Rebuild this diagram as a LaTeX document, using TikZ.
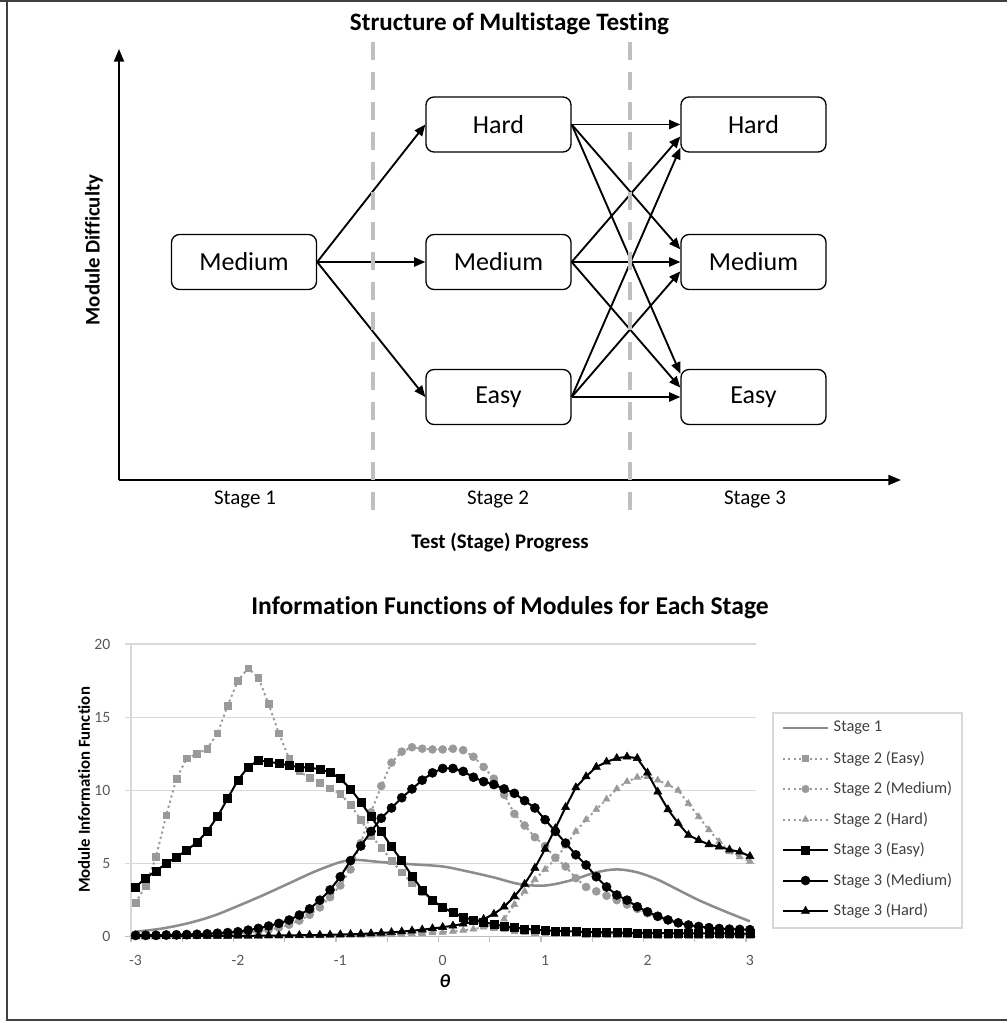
\documentclass[tikz,border=0pt]{standalone}
\usepackage{fontspec}
\setmainfont{Carlito}[Ligatures=NoCommon]
\usetikzlibrary{arrows.meta,plotmarks,calc}
\definecolor{dashgray}{HTML}{BFBFBF}
\definecolor{gridgray}{HTML}{D9D9D9}
\definecolor{axgray}{HTML}{BFBFBF}
\definecolor{lblgray}{HTML}{595959}
\definecolor{legtxt}{HTML}{404040}
\definecolor{sonegray}{HTML}{8C8C8C}
\definecolor{stwogray}{HTML}{9A9A9A}
\definecolor{framegray}{HTML}{404040}
\begin{document}
\begin{tikzpicture}[x=0.75pt,y=-0.75pt,
  module/.style={draw, line width=1pt, rounded corners=6pt, minimum width=108.75pt,
    minimum height=41.25pt, fill=white, inner sep=0pt, font=\fontsize{19.5}{22}\selectfont},
  flow/.style={line width=1.4pt, -{Triangle[length=8.5pt,width=7pt]}},
  axisline/.style={line width=1.5pt, -{Triangle[length=9.5pt,width=7.5pt]}},
  stagesep/.style={draw=dashgray, line width=3pt, dash pattern=on 13.5pt off 9pt},
  stagelbl/.style={font=\fontsize{15.7}{18}\selectfont},
  axtitle/.style={font=\bfseries\fontsize{15.6}{18}\selectfont},
  grid line/.style={draw=gridgray, line width=1.1pt},
  ticklbl/.style={text=lblgray, font=\fontsize{11.8}{13}\selectfont},
  legtext/.style={text=legtxt, anchor=west, font=\fontsize{12.3}{14}\selectfont},
  sone/.style={draw=sonegray, line width=1.9pt},
  stwo/.style={draw=stwogray, line width=1.5pt, dash pattern=on 1.6pt off 2.4pt,
    mark options={solid, fill=stwogray, draw=stwogray, line width=0.4pt}},
  sthree/.style={draw=black, line width=1.5pt,
    mark options={solid, fill=black, draw=black, line width=0.4pt}}
]
\useasboundingbox (0,0) rectangle (1007,1023);
% frame
\draw[framegray, line width=1.5pt] (0,1.5) -- (1007,1.5);
\draw[framegray, line width=1.5pt] (7,0) -- (7,1019.5) -- (1007,1019.5);

% ---------------- top diagram ----------------
\node[anchor=base, font=\bfseries\fontsize{18.8}{22}\selectfont] (title1) at (509.5,31) {Structure of Multistage Testing};

\coordinate (orig) at (119,480);
\coordinate (ytip) at (119,49);
\coordinate (xtip) at (901,480);
\draw[axisline] (orig) -- (ytip);
\draw[axisline] (orig) -- (xtip);

\node[module] (m1) at (244,262) {Medium};
\node[module] (h2) at (498.5,124.5) {Hard};
\node[module] (m2) at (498.5,262) {Medium};
\node[module] (e2) at (498.5,397) {Easy};
\node[module] (h3) at (753.5,124.5) {Hard};
\node[module] (m3) at (753.5,262) {Medium};
\node[module] (e3) at (753.5,397) {Easy};

\draw[flow] (m1.east) -- (h2.west);
\draw[flow] (m1.east) -- (m2.west);
\draw[flow] (m1.east) -- (e2.west);

\draw[flow] (h2.east) -- (h3.west);
\draw[flow] (h2.east) -- ([yshift=9.5pt]m3.west);
\draw[flow] (h2.east) -- ([yshift=17.5pt]e3.west);
\draw[flow] (m2.east) -- ([yshift=-9pt]h3.west);
\draw[flow] (m2.east) -- (m3.west);
\draw[flow] (m2.east) -- ([yshift=7pt]e3.west);
\draw[flow] (e2.east) -- ([yshift=-17.5pt]h3.west);
\draw[flow] (e2.east) -- ([yshift=-7pt]m3.west);
\draw[flow] (e2.east) -- (e3.west);

\coordinate (d1t) at (372.5,42);
\coordinate (d1b) at (372.5,511);
\coordinate (d2t) at (629.5,42);
\coordinate (d2b) at (629.5,511);
\draw[stagesep] (d1t) -- (d1b);
\draw[stagesep] (d2t) -- (d2b);

\node[stagelbl] (st1) at (245,500) {Stage 1};
\node[stagelbl] (st2) at (498,500) {Stage 2};
\node[stagelbl] (st3) at (755,500) {Stage 3};
\node[axtitle] (xtitle) at (500,543) {Test (Stage) Progress};
\node[axtitle, rotate=90] (ytitle) at (94,250) {Module Difficulty};

% ---------------- chart ----------------
\node[anchor=base, font=\bfseries\fontsize{19.2}{22}\selectfont] (title2) at (510,614) {Information Functions of Modules for Each Stage};

\foreach \v/\yy in {5/863.55,10/790.4,15/717.25,20/644.1}{
  \draw[grid line] (125,\yy) -- (756,\yy);
}
\draw[grid line] (131,644.1) -- (131,936.7);
\draw[draw=axgray, line width=1.1pt] (125,936.7) -- (756,936.7);
\foreach \k in {0,...,12}{
  \draw[draw=axgray, line width=1.1pt] (131+51.25*\k,936.7) -- (131+51.25*\k,942);
}
\foreach \v/\yy in {0/936.7,5/863.55,10/790.4,15/717.25,20/644.1}{
  \node[ticklbl, anchor=east] at (115,\yy) {\v};
}
\foreach \t [count=\j from 0] in {-3,-2,-1,0,1,2,3}{
  \node[ticklbl] at (135.5+102.4*\j,960) {\t};
}
\node[font=\bfseries\itshape\fontsize{14}{16}\selectfont] (thetalbl) at (445,981) {θ};
\node[rotate=90, font=\bfseries\fontsize{12.6}{15}\selectfont] (ytitle2) at (84,790) {Module Information Function};

\begin{scope}[shift={(135.5,936.7)}, x=7.68pt, y=10.9725pt]
% Stage 1
\draw[sone] plot[smooth, tension=0.55] coordinates {(0,0.34) (2.5,0.55) (5,0.9) (7.5,1.4) (10,2.1) (12.5,2.85) (15,3.65) (17.5,4.45) (20,5.1) (21.5,5.25) (24,5.1) (27,4.95) (30,4.8) (32.5,4.45) (35,4.05) (37.5,3.6) (40,3.5) (42.5,3.85) (45,4.4) (47,4.6) (49,4.4) (51,3.9) (53,3.2) (55,2.5) (57.5,1.75) (60,1.05)};
% Stage 2 easy
\draw[stwo] plot[mark=square*, mark size=2.5pt] coordinates {(0,2.3) (1,3.5) (2,5.45) (3,8.3) (4,10.8) (5,12.2) (6,12.5) (7,12.85) (8,13.9) (9,15.8) (10,17.5) (11,18.35) (12,17.7) (13,15.9) (14,13.9) (15,12.2) (16,11.3) (17,10.85) (18,10.5) (19,10.15) (20,9.75) (21,9.0) (22,8.0) (23,6.9) (24,6.1) (25,5.2) (26,4.4) (27,3.65) (28,3.05) (29,2.5) (30,2.0) (31,1.6) (32,1.3) (33,1.05) (34,0.85) (35,0.7) (36,0.58) (37,0.48) (38,0.4) (39,0.34) (40,0.3) (41,0.27) (42,0.25) (43,0.23) (44,0.21) (45,0.2) (46,0.19) (47,0.18) (48,0.17) (49,0.16) (50,0.15) (51,0.15) (52,0.14) (53,0.14) (54,0.13) (55,0.13) (56,0.13) (57,0.12) (58,0.12) (59,0.12) (60,0.12)};
% Stage 2 medium
\draw[stwo] plot[mark=*, mark size=3pt] coordinates {(0,0.03) (1,0.04) (2,0.05) (3,0.06) (4,0.07) (5,0.08) (6,0.1) (7,0.12) (8,0.15) (9,0.18) (10,0.22) (11,0.28) (12,0.36) (13,0.47) (14,0.62) (15,0.82) (16,1.1) (17,1.5) (18,2.0) (19,2.7) (20,3.5) (21,4.6) (22,6.4) (23,8.5) (24,10.3) (25,11.9) (26,12.65) (27,12.95) (28,12.85) (29,12.8) (30,12.8) (31,12.85) (32,12.75) (33,12.3) (34,11.6) (35,10.8) (36,9.7) (37,8.4) (38,7.6) (39,6.8) (40,6.2) (41,5.4) (42,4.8) (43,4.0) (44,3.4) (45,3.1) (46,2.8) (47,2.5) (48,2.2) (49,1.9) (50,1.6) (51,1.35) (52,1.12) (53,0.93) (54,0.78) (55,0.67) (56,0.59) (57,0.53) (58,0.49) (59,0.46) (60,0.44)};
% Stage 2 hard
\draw[stwo] plot[mark=triangle*, mark size=3pt] coordinates {(0,0.01) (1,0.01) (2,0.01) (3,0.01) (4,0.02) (5,0.02) (6,0.02) (7,0.02) (8,0.03) (9,0.03) (10,0.03) (11,0.03) (12,0.04) (13,0.04) (14,0.04) (15,0.05) (16,0.05) (17,0.06) (18,0.06) (19,0.07) (20,0.08) (21,0.09) (22,0.1) (23,0.11) (24,0.12) (25,0.14) (26,0.16) (27,0.19) (28,0.22) (29,0.26) (30,0.3) (31,0.36) (32,0.43) (33,0.52) (34,0.65) (35,0.85) (36,1.2) (37,2.2) (38,3.1) (39,3.9) (40,4.6) (41,5.3) (42,6.2) (43,7.2) (44,8.0) (45,8.7) (46,9.4) (47,10.1) (48,10.6) (49,10.9) (50,10.95) (51,10.7) (52,10.4) (53,10.0) (54,9.1) (55,8.2) (56,7.3) (57,6.5) (58,5.8) (59,5.45) (60,5.15)};
% Stage 3 easy
\draw[sthree] plot[mark=square*, mark size=3pt] coordinates {(0,3.4) (1,4.0) (2,4.5) (3,5.0) (4,5.45) (5,5.9) (6,6.45) (7,7.2) (8,8.2) (9,9.45) (10,10.7) (11,11.6) (12,12.05) (13,11.95) (14,11.85) (15,11.7) (16,11.6) (17,11.55) (18,11.45) (19,11.25) (20,10.8) (21,10.1) (22,9.2) (23,8.2) (24,7.2) (25,6.15) (26,5.2) (27,4.15) (28,3.2) (29,2.5) (30,2.0) (31,1.65) (32,1.35) (33,1.15) (34,1.0) (35,0.85) (36,0.72) (37,0.62) (38,0.54) (39,0.48) (40,0.44) (41,0.4) (42,0.38) (43,0.35) (44,0.33) (45,0.31) (46,0.3) (47,0.28) (48,0.27) (49,0.26) (50,0.25) (51,0.24) (52,0.24) (53,0.23) (54,0.23) (55,0.22) (56,0.22) (57,0.22) (58,0.22) (59,0.21) (60,0.21)};
% Stage 3 medium
\draw[sthree] plot[mark=*, mark size=3.4pt] coordinates {(0,0.1) (1,0.1) (2,0.1) (3,0.12) (4,0.13) (5,0.15) (6,0.17) (7,0.2) (8,0.24) (9,0.28) (10,0.34) (11,0.45) (12,0.57) (13,0.73) (14,0.91) (15,1.14) (16,1.48) (17,1.9) (18,2.5) (19,3.2) (20,4.1) (21,5.2) (22,6.2) (23,7.2) (24,8.1) (25,8.8) (26,9.5) (27,10.1) (28,10.7) (29,11.2) (30,11.5) (31,11.5) (32,11.3) (33,10.9) (34,10.6) (35,10.4) (36,10.1) (37,9.8) (38,9.3) (39,8.8) (40,8.0) (41,7.2) (42,6.4) (43,5.6) (44,4.9) (45,4.1) (46,3.4) (47,2.85) (48,2.5) (49,2.05) (50,1.7) (51,1.4) (52,1.15) (53,0.95) (54,0.8) (55,0.7) (56,0.62) (57,0.56) (58,0.52) (59,0.5) (60,0.48)};
% Stage 3 hard
\draw[sthree] plot[mark=triangle*, mark size=3.5pt] coordinates {(0,0.02) (1,0.02) (2,0.02) (3,0.03) (4,0.03) (5,0.03) (6,0.04) (7,0.04) (8,0.05) (9,0.05) (10,0.06) (11,0.06) (12,0.07) (13,0.08) (14,0.08) (15,0.09) (16,0.1) (17,0.11) (18,0.12) (19,0.13) (20,0.15) (21,0.17) (22,0.19) (23,0.22) (24,0.26) (25,0.3) (26,0.35) (27,0.41) (28,0.48) (29,0.56) (30,0.65) (31,0.75) (32,0.88) (33,1.02) (34,1.2) (35,1.55) (36,2.05) (37,2.75) (38,3.6) (39,4.7) (40,6.0) (41,7.4) (42,8.85) (43,10.2) (44,10.95) (45,11.6) (46,11.95) (47,12.2) (48,12.3) (49,12.2) (50,11.2) (51,9.9) (52,8.7) (53,7.75) (54,6.95) (55,6.6) (56,6.3) (57,6.15) (58,5.95) (59,5.8) (60,5.5)};
\end{scope}

% legend
\draw[draw=gridgray, line width=0.8pt, fill=white] (773,713) rectangle (962,928);
\draw[sone] (783,728) -- (828,728);
\draw[stwo] plot[mark=square*, mark size=2.3pt, mark indices={2}] coordinates {(783,758.5) (805.5,758.5) (828,758.5)};
\draw[stwo] plot[mark=*, mark size=2.8pt, mark indices={2}] coordinates {(783,789) (805.5,789) (828,789)};
\draw[stwo] plot[mark=triangle*, mark size=2.8pt, mark indices={2}] coordinates {(783,819.5) (805.5,819.5) (828,819.5)};
\draw[sthree] plot[mark=square*, mark size=3pt, mark indices={2}] coordinates {(783,850) (805.5,850) (828,850)};
\draw[sthree] plot[mark=*, mark size=3.4pt, mark indices={2}] coordinates {(783,880.5) (805.5,880.5) (828,880.5)};
\draw[sthree] plot[mark=triangle*, mark size=3.5pt, mark indices={2}] coordinates {(783,911) (805.5,911) (828,911)};
\node[legtext] (l1) at (829,728) {Stage 1};
\node[legtext] (l2) at (829,758.5) {Stage 2 (Easy)};
\node[legtext] (l3) at (829,789) {Stage 2 (Medium)};
\node[legtext] (l4) at (829,819.5) {Stage 2 (Hard)};
\node[legtext] (l5) at (829,850) {Stage 3 (Easy)};
\node[legtext] (l6) at (829,880.5) {Stage 3 (Medium)};
\node[legtext] (l7) at (829,911) {Stage 3 (Hard)};
\end{tikzpicture}
\end{document}
